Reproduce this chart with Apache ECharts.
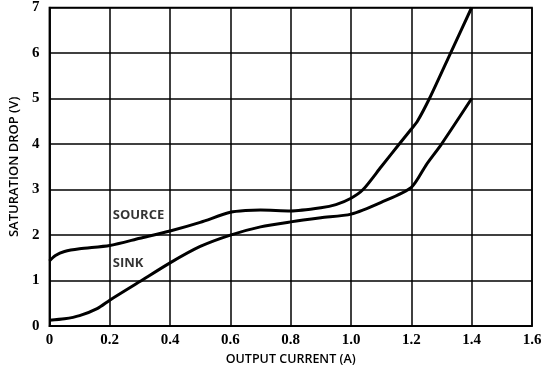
<!DOCTYPE html>
<html>
<head>
<meta charset="utf-8">
<script src="https://cdn.jsdelivr.net/npm/echarts@6/dist/echarts.min.js"></script>
<style>html,body{margin:0;padding:0;background:#fff;}#c{width:551px;height:371px;}</style>
</head>
<body>
<div id="c"></div>
<script>
const sourceX = [0, 0.02, 0.05, 0.1, 0.2, 0.3, 0.4, 0.5, 0.6, 0.65, 0.7, 0.8, 0.9, 0.95, 1.0, 1.04, 1.1, 1.16, 1.2, 1.22, 1.26, 1.33, 1.4];
const sourceY = [1.43, 1.55, 1.64, 1.7, 1.77, 1.93, 2.09, 2.28, 2.5, 2.54, 2.55, 2.53, 2.6, 2.67, 2.81, 3.0, 3.5, 4.0, 4.33, 4.5, 5.0, 6.0, 7.0];
const sinkX = [0, 0.05, 0.1, 0.16, 0.2, 0.3, 0.4, 0.5, 0.6, 0.7, 0.8, 0.9, 1.0, 1.1, 1.2, 1.25, 1.3, 1.4];
const sinkY = [0.13, 0.16, 0.23, 0.39, 0.57, 0.98, 1.39, 1.75, 2.0, 2.18, 2.29, 2.38, 2.46, 2.72, 3.05, 3.55, 4.0, 5.0];
const xTickLabels = ['0', '0.2', '0.4', '0.6', '0.8', '1.0', '1.2', '1.4', '1.6'];
const yTickLabels = ['0', '1', '2', '3', '4', '5', '6', '7'];
const seriesLabels = ['SOURCE', 'SINK'];
const labelPos = [[0.21, 2.43], [0.21, 1.38]];

const chart = echarts.init(document.getElementById('c'), null, {renderer: 'canvas'});
const tickFont = {fontFamily: 'Liberation Serif', fontWeight: 'bold', fontSize: 15, color: '#000'};
const titleFont = {fontFamily: 'Open Sans', fontWeight: 600, fontSize: 13, color: '#000'};
chart.setOption({
  animation: false,
  grid: {left: 44, right: 19, top: 5, bottom: 41, show: true, borderColor: '#000', borderWidth: 1.6},
  xAxis: {
    type: 'value', min: 0, max: 1.6, interval: 0.2,
    name: 'OUTPUT CURRENT (A)', nameLocation: 'middle', nameGap: 25, nameTextStyle: Object.assign({}, titleFont, {fontSize: 12.5}),
    axisLine: {show: true, lineStyle: {color: '#000', width: 1.6}},
    axisTick: {show: false},
    axisLabel: Object.assign({margin: 7, formatter: (v, i) => xTickLabels[i]}, tickFont),
    splitLine: {show: true, lineStyle: {color: '#000', width: 1.5}}
  },
  yAxis: {
    type: 'value', min: 0, max: 7, interval: 1,
    name: 'SATURATION DROP (V)', nameLocation: 'middle', nameGap: 26, nameTextStyle: titleFont,
    axisLine: {show: true, lineStyle: {color: '#000', width: 1.6}},
    axisTick: {show: false},
    axisLabel: Object.assign({margin: 10, formatter: (v, i) => yTickLabels[i]}, tickFont),
    splitLine: {show: true, lineStyle: {color: '#000', width: 1.5}}
  },
  series: [
    {type: 'line', data: sourceX.map((x, i) => [x, sourceY[i]]), smooth: 0.25, showSymbol: false,
     lineStyle: {color: '#000', width: 3}},
    {type: 'line', data: sinkX.map((x, i) => [x, sinkY[i]]), smooth: 0.25, showSymbol: false,
     lineStyle: {color: '#000', width: 3}},
    {type: 'scatter', symbolSize: 0, silent: true,
     data: labelPos.map((p, i) => ({value: p, label: {show: true, formatter: seriesLabels[i], position: 'right', distance: 0,
       fontFamily: 'Open Sans', fontWeight: 'bold', fontSize: 13, color: '#000'}}))}
  ]
});
</script>
</body>
</html>
